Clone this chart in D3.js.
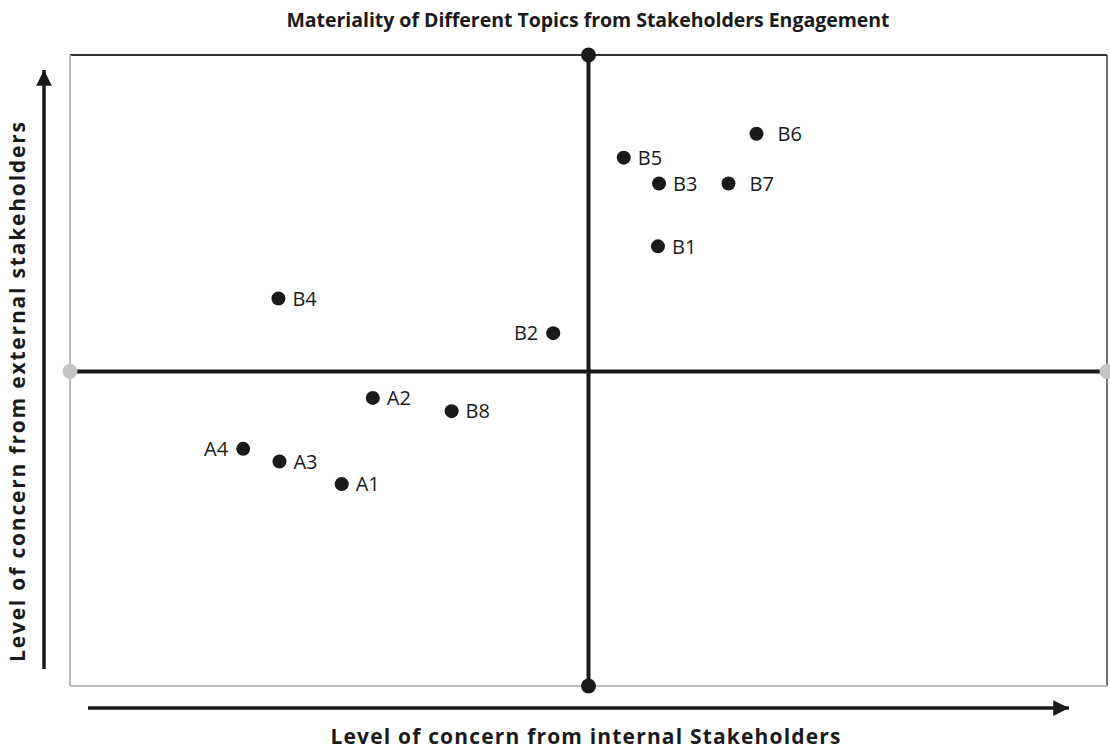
<!DOCTYPE html>
<html>
<head>
<meta charset="utf-8">
<script src="https://cdn.jsdelivr.net/npm/d3@7"></script>
<style>
  body { margin: 0; background: #fff; }
  text { font-family: "Open Sans", "Noto Sans", sans-serif; fill: #1a1a1a; }
</style>
</head>
<body>
<div id="chart"></div>
<script>
// topics plotted on the materiality matrix
const topics = ["B6", "B5", "B3", "B7", "B1", "B4", "B2", "A2", "B8", "A4", "A3", "A1"];
const internalConcern = [6.62, 5.34, 5.68, 6.35, 5.67, 2.01, 4.66, 2.92, 3.68, 1.67, 2.02, 2.62];
const externalConcern = [8.78, 8.40, 7.99, 7.99, 6.99, 6.16, 5.61, 4.58, 4.37, 3.77, 3.57, 3.21];
const labelSide = ["right", "right", "right", "right", "right", "right", "left", "right", "right", "left", "right", "right"];

const title = "Materiality of Different Topics from Stakeholders Engagement";
const xTitle = "Level of concern from internal Stakeholders";
const yTitle = "Level of concern from external stakeholders";

const W = 1110, H = 752;
const frame = {left: 70, right: 1107, top: 55, bottom: 686};

const svg = d3.select('#chart').append('svg')
  .attr('width', W).attr('height', H);

const x = d3.scaleLinear().domain([0, 10]).range([frame.left, frame.right]);
const y = d3.scaleLinear().domain([0, 10]).range([frame.bottom, frame.top + 2]);

const defs = svg.append('defs');
defs.append('marker')
  .attr('id', 'arrow')
  .attr('viewBox', '0 0 10 10')
  .attr('refX', 10).attr('refY', 5)
  .attr('markerWidth', 4.5).attr('markerHeight', 4.5)
  .attr('markerUnits', 'strokeWidth')
  .attr('orient', 'auto')
  .append('path').attr('d', 'M0,0 L10,5 L0,10 Z').attr('fill', '#1a1a1a');

// frame: grey on left/bottom, dark on top/right
const g = svg.append('g');
g.append('line').attr('x1', x(0)).attr('x2', x(10)).attr('y1', frame.top).attr('y2', frame.top)
  .attr('stroke', '#333').attr('stroke-width', 2);
g.append('line').attr('x1', x(10)).attr('x2', x(10)).attr('y1', frame.top).attr('y2', frame.bottom)
  .attr('stroke', '#444').attr('stroke-width', 1.5);
g.append('line').attr('x1', x(0)).attr('x2', x(0)).attr('y1', frame.top).attr('y2', frame.bottom)
  .attr('stroke', '#bdbdbd').attr('stroke-width', 2);
g.append('line').attr('x1', x(0)).attr('x2', x(10)).attr('y1', frame.bottom).attr('y2', frame.bottom)
  .attr('stroke', '#bdbdbd').attr('stroke-width', 2);

// quadrant dividers
g.append('line').attr('x1', x(0)).attr('x2', x(10)).attr('y1', y(5)).attr('y2', y(5))
  .attr('stroke', '#1a1a1a').attr('stroke-width', 4);
g.append('line').attr('x1', x(5)).attr('x2', x(5)).attr('y1', frame.top).attr('y2', frame.bottom)
  .attr('stroke', '#1a1a1a').attr('stroke-width', 4);

[[x(0), y(5)], [x(10), y(5)]].forEach(([cx, cy]) =>
  g.append('circle').attr('cx', cx).attr('cy', cy).attr('r', 7.5).attr('fill', '#c4c4c4'));
[[x(5), frame.top], [x(5), frame.bottom]].forEach(([cx, cy]) =>
  g.append('circle').attr('cx', cx).attr('cy', cy).attr('r', 7.5).attr('fill', '#1a1a1a'));

// axis arrows
svg.append('line').attr('x1', 44).attr('x2', 44).attr('y1', 669).attr('y2', 70)
  .attr('stroke', '#1a1a1a').attr('stroke-width', 3.5).attr('marker-end', 'url(#arrow)');
svg.append('line').attr('x1', 88).attr('x2', 1069).attr('y1', 708).attr('y2', 708)
  .attr('stroke', '#1a1a1a').attr('stroke-width', 3.5).attr('marker-end', 'url(#arrow)');

// points
const data = topics.map((t, i) => ({t, xi: internalConcern[i], ye: externalConcern[i], side: labelSide[i]}));
const pts = svg.append('g').selectAll('g').data(data).enter().append('g');
pts.append('circle')
  .attr('cx', d => x(d.xi)).attr('cy', d => y(d.ye))
  .attr('r', 7).attr('fill', '#1a1a1a');
pts.append('text')
  .attr('x', d => d.side === 'left' ? x(d.xi) - 15 : x(d.xi) + (d.t === 'B6' || d.t === 'B7' ? 21 : 14))
  .attr('y', d => y(d.ye))
  .attr('dy', '0.36em')
  .attr('text-anchor', d => d.side === 'left' ? 'end' : 'start')
  .attr('font-size', 20)
  .text(d => d.t);

// titles
svg.append('text').attr('x', 588).attr('y', 27).attr('text-anchor', 'middle')
  .attr('font-size', 19.5).attr('font-weight', 'bold')
  .attr('textLength', 603).attr('lengthAdjust', 'spacing').text(title);
svg.append('text').attr('x', 585.5).attr('y', 744).attr('text-anchor', 'middle')
  .attr('font-size', 21).attr('font-weight', 'bold')
  .attr('textLength', 510).attr('lengthAdjust', 'spacing').text(xTitle);
svg.append('text').attr('transform', 'translate(25,392) rotate(-90)').attr('text-anchor', 'middle')
  .attr('font-size', 21).attr('font-weight', 'bold')
  .attr('textLength', 540).attr('lengthAdjust', 'spacing').text(yTitle);
</script>
</body>
</html>
